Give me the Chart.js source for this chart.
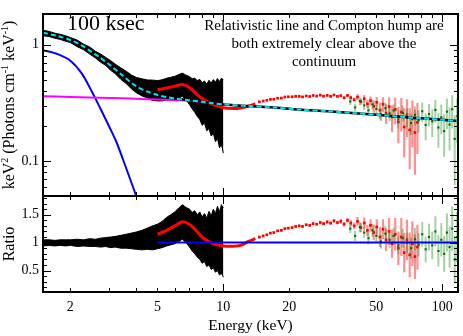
<!DOCTYPE html>
<html>
<head>
<meta charset="utf-8">
<script src="https://cdn.jsdelivr.net/npm/chart.js@4.4.1/dist/chart.umd.min.js"></script>
<style>
  html, body { margin: 0; padding: 0; background: #ffffff; }
  #spectrum { display: block; }
</style>
</head>
<body>
<canvas id="spectrum" width="463" height="336"></canvas>
<script>
// continuum model (cyan) and its components, keV^2 (Photons cm^-1 keV^-1)
const modelEnergy = [1.5, 1.75, 2, 2.25, 2.5, 2.75, 3, 3.25, 3.5, 3.75, 4, 4.5, 5, 5.5, 6, 7, 8, 9, 10, 13, 17, 22, 30, 40, 50, 60, 70, 80, 100, 118];
const modelFlux = [1.27, 1.19, 1.10, 0.99, 0.87, 0.77, 0.68, 0.60, 0.535, 0.48, 0.44, 0.395, 0.37, 0.355, 0.345, 0.333, 0.323, 0.314, 0.307, 0.297, 0.288, 0.277, 0.268, 0.258, 0.25, 0.243, 0.237, 0.233, 0.226, 0.221];

const bbodyEnergy = [1.5, 1.75, 2, 2.25, 2.5, 2.75, 3, 3.25, 3.5, 3.75, 4.0];
const bbodyFlux = [0.90, 0.83, 0.73, 0.57, 0.40, 0.28, 0.20, 0.145, 0.10, 0.07, 0.05];

const powerEnergy = [1.5, 2, 3, 4, 5, 6, 7, 8, 10];
const powerFlux = [0.36, 0.356, 0.349, 0.343, 0.338, 0.334, 0.33, 0.321, 0.306];

// black data (1.5-10 keV) as lower / upper envelope of the error bars
const blackEnergy = [1.5, 1.6, 1.7, 1.8, 1.9, 2.0, 2.15, 2.3, 2.45, 2.6, 2.75, 2.9, 3.05, 3.2, 3.4, 3.6, 3.8, 4.0, 4.25, 4.5, 4.75, 5.0, 5.25, 5.5, 5.75, 6.0, 6.25, 6.5, 6.75, 7.0, 7.2, 7.4, 7.6, 7.8, 8.0, 8.2, 8.4, 8.6, 8.8, 9.0, 9.2, 9.4, 9.6, 9.8, 10.0];
const blackFluxLow = [1.194, 1.178, 1.137, 1.112, 1.072, 1.045, 0.963, 0.907, 0.832, 0.772, 0.708, 0.665, 0.605, 0.566, 0.504, 0.464, 0.418, 0.387, 0.363, 0.348, 0.332, 0.329, 0.329, 0.334, 0.336, 0.338, 0.349, 0.359, 0.336, 0.306, 0.281, 0.263, 0.242, 0.228, 0.203, 0.212, 0.182, 0.19, 0.164, 0.173, 0.147, 0.156, 0.13, 0.139, 0.117];
const blackFluxHigh = [1.334, 1.302, 1.258, 1.229, 1.197, 1.155, 1.097, 1.013, 0.958, 0.88, 0.832, 0.779, 0.732, 0.683, 0.633, 0.592, 0.55, 0.524, 0.509, 0.498, 0.497, 0.492, 0.50, 0.515, 0.525, 0.535, 0.554, 0.57, 0.548, 0.533, 0.51, 0.517, 0.491, 0.504, 0.472, 0.488, 0.459, 0.495, 0.468, 0.502, 0.476, 0.513, 0.481, 0.517, 0.497];
const blackRatioLow = [0.94, 0.95, 0.94, 0.95, 0.94, 0.95, 0.93, 0.94, 0.93, 0.93, 0.92, 0.93, 0.91, 0.92, 0.90, 0.90, 0.89, 0.88, 0.87, 0.88, 0.87, 0.89, 0.91, 0.94, 0.96, 0.98, 1.02, 1.06, 1.00, 0.92, 0.85, 0.80, 0.74, 0.70, 0.63, 0.66, 0.57, 0.60, 0.52, 0.55, 0.47, 0.50, 0.42, 0.45, 0.38];
const blackRatioHigh = [1.05, 1.05, 1.04, 1.05, 1.05, 1.05, 1.06, 1.05, 1.07, 1.06, 1.08, 1.09, 1.10, 1.11, 1.13, 1.15, 1.17, 1.19, 1.22, 1.26, 1.30, 1.33, 1.38, 1.45, 1.50, 1.55, 1.62, 1.68, 1.63, 1.60, 1.54, 1.57, 1.50, 1.55, 1.46, 1.52, 1.44, 1.56, 1.48, 1.60, 1.52, 1.65, 1.55, 1.68, 1.62];

// red data: dense part drawn as a line, then binned points
const redLineEnergy = [5, 5.5, 6, 6.5, 7, 7.5, 8, 8.5, 9, 10, 11, 12, 13, 14];
const redLineFlux = [0.41, 0.425, 0.44, 0.455, 0.43, 0.38, 0.345, 0.322, 0.305, 0.287, 0.283, 0.286, 0.296, 0.31];
const redLineRatio = [1.15, 1.22, 1.30, 1.375, 1.33, 1.22, 1.10, 1.03, 0.98, 0.94, 0.935, 0.95, 1.02, 1.07];

const redEnergy = [14.6, 15.2, 15.8, 16.4, 17, 17.7, 18.4, 19.1, 19.8, 20.6, 21.4, 22.2, 23, 23.9, 24.8, 25.7, 26.7, 27.7, 28.7, 29.8, 30.9, 32, 33.2, 34.4, 35.6, 36.9, 38.2, 39.6, 41, 42.5, 44, 45.5, 47, 48.6, 50.2, 51.9, 53.6, 55.4, 57.2, 59, 61, 63, 65, 67, 69, 71, 73, 75, 77];
const redFlux = [0.323, 0.328, 0.333, 0.339, 0.340, 0.347, 0.348, 0.355, 0.357, 0.357, 0.36, 0.36, 0.356, 0.363, 0.359, 0.366, 0.362, 0.369, 0.362, 0.367, 0.36, 0.37, 0.36, 0.364, 0.35, 0.367, 0.351, 0.337, 0.355, 0.325, 0.344, 0.31, 0.331, 0.296, 0.32, 0.274, 0.308, 0.258, 0.294, 0.239, 0.278, 0.217, 0.264, 0.196, 0.25, 0.185, 0.231, 0.176, 0.215];
const redFluxErr = [0.006, 0.006, 0.006, 0.006, 0.006, 0.006, 0.006, 0.006, 0.006, 0.006, 0.006, 0.006, 0.006, 0.006, 0.006, 0.006, 0.006, 0.008, 0.008, 0.008, 0.008, 0.008, 0.008, 0.011, 0.011, 0.011, 0.014, 0.014, 0.02, 0.02, 0.026, 0.026, 0.028, 0.036, 0.036, 0.045, 0.045, 0.05, 0.06, 0.062, 0.072, 0.075, 0.085, 0.088, 0.09, 0.1, 0.1, 0.1, 0.1];
const redRatio = [1.10, 1.12, 1.14, 1.17, 1.18, 1.21, 1.22, 1.25, 1.26, 1.27, 1.29, 1.30, 1.29, 1.32, 1.31, 1.34, 1.33, 1.36, 1.34, 1.37, 1.35, 1.39, 1.36, 1.38, 1.33, 1.40, 1.35, 1.30, 1.38, 1.27, 1.35, 1.22, 1.31, 1.18, 1.28, 1.10, 1.24, 1.05, 1.20, 0.98, 1.15, 0.90, 1.10, 0.82, 1.05, 0.78, 0.98, 0.75, 0.92];
const redRatioErr = [0.02, 0.02, 0.02, 0.02, 0.02, 0.02, 0.02, 0.02, 0.02, 0.02, 0.02, 0.02, 0.02, 0.02, 0.02, 0.02, 0.02, 0.03, 0.03, 0.03, 0.03, 0.03, 0.03, 0.04, 0.04, 0.04, 0.055, 0.055, 0.08, 0.08, 0.1, 0.1, 0.11, 0.14, 0.14, 0.18, 0.18, 0.2, 0.24, 0.25, 0.29, 0.3, 0.34, 0.35, 0.36, 0.4, 0.4, 0.4, 0.4];

// green data
const greenEnergy = [38, 40, 42, 44, 46, 48, 50, 52.5, 55, 57.5, 60, 63, 66, 69, 72, 75, 78, 81, 84, 87, 90, 93, 96, 99, 102, 105, 108, 111, 114, 117];
const greenFlux = [0.325, 0.289, 0.328, 0.301, 0.273, 0.307, 0.28, 0.253, 0.285, 0.257, 0.272, 0.229, 0.259, 0.238, 0.212, 0.249, 0.225, 0.268, 0.204, 0.254, 0.219, 0.275, 0.194, 0.238, 0.181, 0.266, 0.206, 0.279, 0.155, 0.243];
const greenFluxErr = [0.021, 0.023, 0.026, 0.026, 0.028, 0.03, 0.03, 0.032, 0.034, 0.037, 0.036, 0.039, 0.041, 0.043, 0.045, 0.047, 0.049, 0.051, 0.053, 0.055, 0.058, 0.062, 0.064, 0.068, 0.072, 0.077, 0.083, 0.089, 0.093, 0.1];
const greenRatio = [1.25, 1.12, 1.28, 1.18, 1.08, 1.22, 1.12, 1.02, 1.16, 1.05, 1.12, 0.95, 1.08, 1.00, 0.90, 1.06, 0.96, 1.15, 0.88, 1.10, 0.95, 1.20, 0.85, 1.05, 0.80, 1.18, 0.92, 1.25, 0.70, 1.10];
const greenRatioErr = [0.08, 0.09, 0.1, 0.1, 0.11, 0.12, 0.12, 0.13, 0.14, 0.15, 0.15, 0.16, 0.17, 0.18, 0.19, 0.2, 0.21, 0.22, 0.23, 0.24, 0.25, 0.27, 0.28, 0.3, 0.32, 0.34, 0.37, 0.4, 0.42, 0.45];

const unityEnergy = [5, 118];
const unityRatio = [1, 1];

// axis ticks
const energyLabels = [2, 5, 10, 20, 50, 100];
const energyMinorTicks = [2, 3, 4, 5, 6, 7, 8, 9, 20, 30, 40, 50, 60, 70, 80, 90];
const energyMajorTicks = [10, 100];
const fluxLabels = [0.1, 1];
const fluxMinorTicks = [0.06, 0.07, 0.08, 0.09, 0.2, 0.3, 0.4, 0.5, 0.6, 0.7, 0.8, 0.9];
const ratioLabels = [0.5, 1, 1.5];
const ratioMinorTicks = [0.2, 0.3, 0.4, 0.6, 0.7, 0.8, 0.9, 1.1, 1.2, 1.3, 1.4, 1.6, 1.7, 1.8];

const serif = '"Liberation Serif", "Times New Roman", serif';
const canvas = document.getElementById('spectrum');

function pairs(xs, ys) {
  return xs.map((x, i) => ({ x, y: ys[i] }));
}

function curve(xs, ys, axis, color, width, order, extra = {}) {
  return Object.assign({
    data: pairs(xs, ys),
    yAxisID: axis,
    borderColor: color,
    borderWidth: width,
    pointRadius: 0,
    fill: false,
    tension: 0.3,
    order,
  }, extra);
}

function points(xs, ys, errs, axis, color, errColor, size, errWidth, order) {
  return {
    data: pairs(xs, ys),
    yAxisID: axis,
    showLine: false,
    pointStyle: 'rect',
    pointRadius: size,
    pointBackgroundColor: color,
    pointBorderWidth: 0,
    errors: errs,
    errorColor: errColor,
    errorWidth: errWidth,
    order,
  };
}

const errorBars = {
  id: 'errorBars',
  beforeDatasetDraw(chart, args) {
    const ds = chart.data.datasets[args.index];
    if (!ds.errors) {
      return;
    }
    const yScale = chart.scales[ds.yAxisID];
    const ctx = chart.ctx;
    ctx.save();
    ctx.strokeStyle = ds.errorColor;
    ctx.lineWidth = ds.errorWidth;
    ctx.beginPath();
    args.meta.data.forEach((pt, i) => {
      const v = ds.data[i].y;
      const top = yScale.getPixelForValue(v + ds.errors[i]);
      const bottom = yScale.getPixelForValue(Math.max(v - ds.errors[i], yScale.min));
      ctx.moveTo(pt.x, Math.max(top, yScale.top));
      ctx.lineTo(pt.x, Math.min(bottom, yScale.bottom));
    });
    ctx.stroke();
    ctx.restore();
  },
};

function drawTicks(ctx, chart, yId, yMinor, yMajor) {
  const xs = chart.scales.x;
  const ys = chart.scales[yId];
  const left = xs.left;
  const right = xs.right;
  ctx.lineWidth = 1;
  ctx.beginPath();
  const xTick = (v, len) => {
    const px = Math.round(xs.getPixelForValue(v)) + 0.5;
    ctx.moveTo(px, ys.top); ctx.lineTo(px, ys.top + len);
    ctx.moveTo(px, ys.bottom); ctx.lineTo(px, ys.bottom - len);
  };
  const yTick = (v, len) => {
    const py = Math.round(ys.getPixelForValue(v)) + 0.5;
    ctx.moveTo(left, py); ctx.lineTo(left + len, py);
    ctx.moveTo(right, py); ctx.lineTo(right - len, py);
  };
  energyMinorTicks.forEach((v) => xTick(v, 4));
  energyMajorTicks.forEach((v) => xTick(v, 8));
  yMinor.forEach((v) => yTick(v, 4));
  yMajor.forEach((v) => yTick(v, 8));
  ctx.stroke();
  ctx.lineWidth = 2;
  ctx.strokeRect(left, ys.top, right - left, ys.bottom - ys.top);
}

function drawFluxTitle(ctx, chart) {
  const ys = chart.scales.y;
  const parts = [
    ['keV', false], ['2', true], [' (Photons cm', false], ['-1', true],
    [' keV', false], ['-1', true], [')', false],
  ];
  const big = `16px ${serif}`;
  const small = `10px ${serif}`;
  let total = 0;
  parts.forEach(([t, sup]) => {
    ctx.font = sup ? small : big;
    total += ctx.measureText(t).width;
  });
  ctx.save();
  ctx.translate(10, (ys.top + ys.bottom) / 2);
  ctx.rotate(-Math.PI / 2);
  ctx.textBaseline = 'middle';
  ctx.fillStyle = '#000';
  let pos = -total / 2;
  parts.forEach(([t, sup]) => {
    ctx.font = sup ? small : big;
    ctx.fillText(t, pos, sup ? -5 : 0);
    pos += ctx.measureText(t).width;
  });
  ctx.restore();
}

const annotations = {
  id: 'annotations',
  afterDraw(chart) {
    const ctx = chart.ctx;
    const area = chart.chartArea;
    ctx.save();
    ctx.strokeStyle = '#000';
    drawTicks(ctx, chart, 'y', fluxMinorTicks, fluxLabels);
    drawTicks(ctx, chart, 'yr', ratioMinorTicks, ratioLabels);
    drawFluxTitle(ctx, chart);

    ctx.fillStyle = '#000';
    ctx.textBaseline = 'alphabetic';
    ctx.font = `22px ${serif}`;
    ctx.textAlign = 'left';
    ctx.fillText('100 ksec', area.left + 24, area.top + 16);

    ctx.font = `15px ${serif}`;
    ctx.textAlign = 'center';
    ['Relativistic line and Compton hump are', 'both extremely clear above the', 'continuum']
      .forEach((line, i) => ctx.fillText(line, area.left + 281, area.top + 16 + i * 18));
    ctx.restore();
  },
};

const fitWidth = (scale) => { scale.width = 43; };
const redBar = 'rgba(255, 30, 30, 0.5)';
const greenBar = 'rgba(30, 140, 30, 0.4)';

new Chart(canvas, {
  type: 'line',
  data: {
    datasets: [
      curve(blackEnergy, blackFluxLow, 'y', '#000000', 1, 20, { tension: 0 }),
      curve(blackEnergy, blackFluxHigh, 'y', '#000000', 1, 20, { tension: 0, fill: '-1', backgroundColor: '#000000' }),
      curve(bbodyEnergy, bbodyFlux, 'y', '#0000ff', 2, 9),
      curve(powerEnergy, powerFlux, 'y', '#ff00ff', 2, 8),
      curve(redLineEnergy, redLineFlux, 'y', '#ff0000', 3, 7),
      points(redEnergy, redFlux, redFluxErr, 'y', '#ff0000', redBar, 1.9, 2.2, 6),
      points(greenEnergy, greenFlux, greenFluxErr, 'y', '#007000', greenBar, 1.5, 2, 5),
      curve(modelEnergy, modelFlux, 'y', '#000000', 2.5, 4),
      curve(modelEnergy, modelFlux, 'y', '#00e5ee', 2, 3, { borderDash: [5, 3] }),

      curve(blackEnergy, blackRatioLow, 'yr', '#000000', 1, 20, { tension: 0 }),
      curve(blackEnergy, blackRatioHigh, 'yr', '#000000', 1, 20, { tension: 0, fill: '-1', backgroundColor: '#000000' }),
      curve(redLineEnergy, redLineRatio, 'yr', '#ff0000', 3, 7),
      points(redEnergy, redRatio, redRatioErr, 'yr', '#ff0000', redBar, 1.9, 2.2, 6),
      points(greenEnergy, greenRatio, greenRatioErr, 'yr', '#007000', greenBar, 1.5, 2, 5),
      curve(unityEnergy, unityRatio, 'yr', '#0000ff', 2, 2, { tension: 0 }),
    ],
  },
  options: {
    responsive: false,
    animation: false,
    devicePixelRatio: 1,
    events: [],
    layout: { padding: { top: 14, right: 5, left: 0, bottom: 0 } },
    plugins: { legend: { display: false }, tooltip: { enabled: false } },
    scales: {
      x: {
        type: 'logarithmic',
        min: 1.5,
        max: 118,
        grid: { display: false, drawTicks: false },
        border: { display: false },
        afterBuildTicks: (scale) => { scale.ticks = energyLabels.map((value) => ({ value })); },
        afterFit: (scale) => { scale.height = 44; },
        ticks: {
          autoSkip: false,
          maxRotation: 0,
          padding: 7,
          color: '#000',
          font: { family: serif, size: 14 },
          callback: (value) => String(value),
        },
        title: {
          display: true,
          text: 'Energy (keV)',
          color: '#000',
          font: { family: serif, size: 15.5 },
          padding: { top: 0, bottom: 1 },
        },
      },
      yr: {
        type: 'linear',
        position: 'left',
        stack: 'panels',
        stackWeight: 96,
        min: 0.115,
        max: 1.835,
        grid: { display: false, drawTicks: false },
        border: { display: false },
        afterBuildTicks: (scale) => { scale.ticks = ratioLabels.map((value) => ({ value })); },
        afterFit: fitWidth,
        ticks: {
          padding: 4,
          color: '#000',
          font: { family: serif, size: 14 },
          callback: (value) => String(value),
        },
        title: {
          display: true,
          text: 'Ratio',
          color: '#000',
          font: { family: serif, size: 16 },
          padding: { top: 0, bottom: 0 },
        },
      },
      y: {
        type: 'logarithmic',
        position: 'left',
        stack: 'panels',
        stackWeight: 182,
        min: 0.05,
        max: 1.84,
        grid: { display: false, drawTicks: false },
        border: { display: false },
        afterBuildTicks: (scale) => { scale.ticks = fluxLabels.map((value) => ({ value })); },
        afterFit: fitWidth,
        ticks: {
          padding: 4,
          color: '#000',
          font: { family: serif, size: 14 },
          callback: (value) => String(value),
        },
      },
    },
  },
  plugins: [errorBars, annotations],
});
</script>
</body>
</html>
